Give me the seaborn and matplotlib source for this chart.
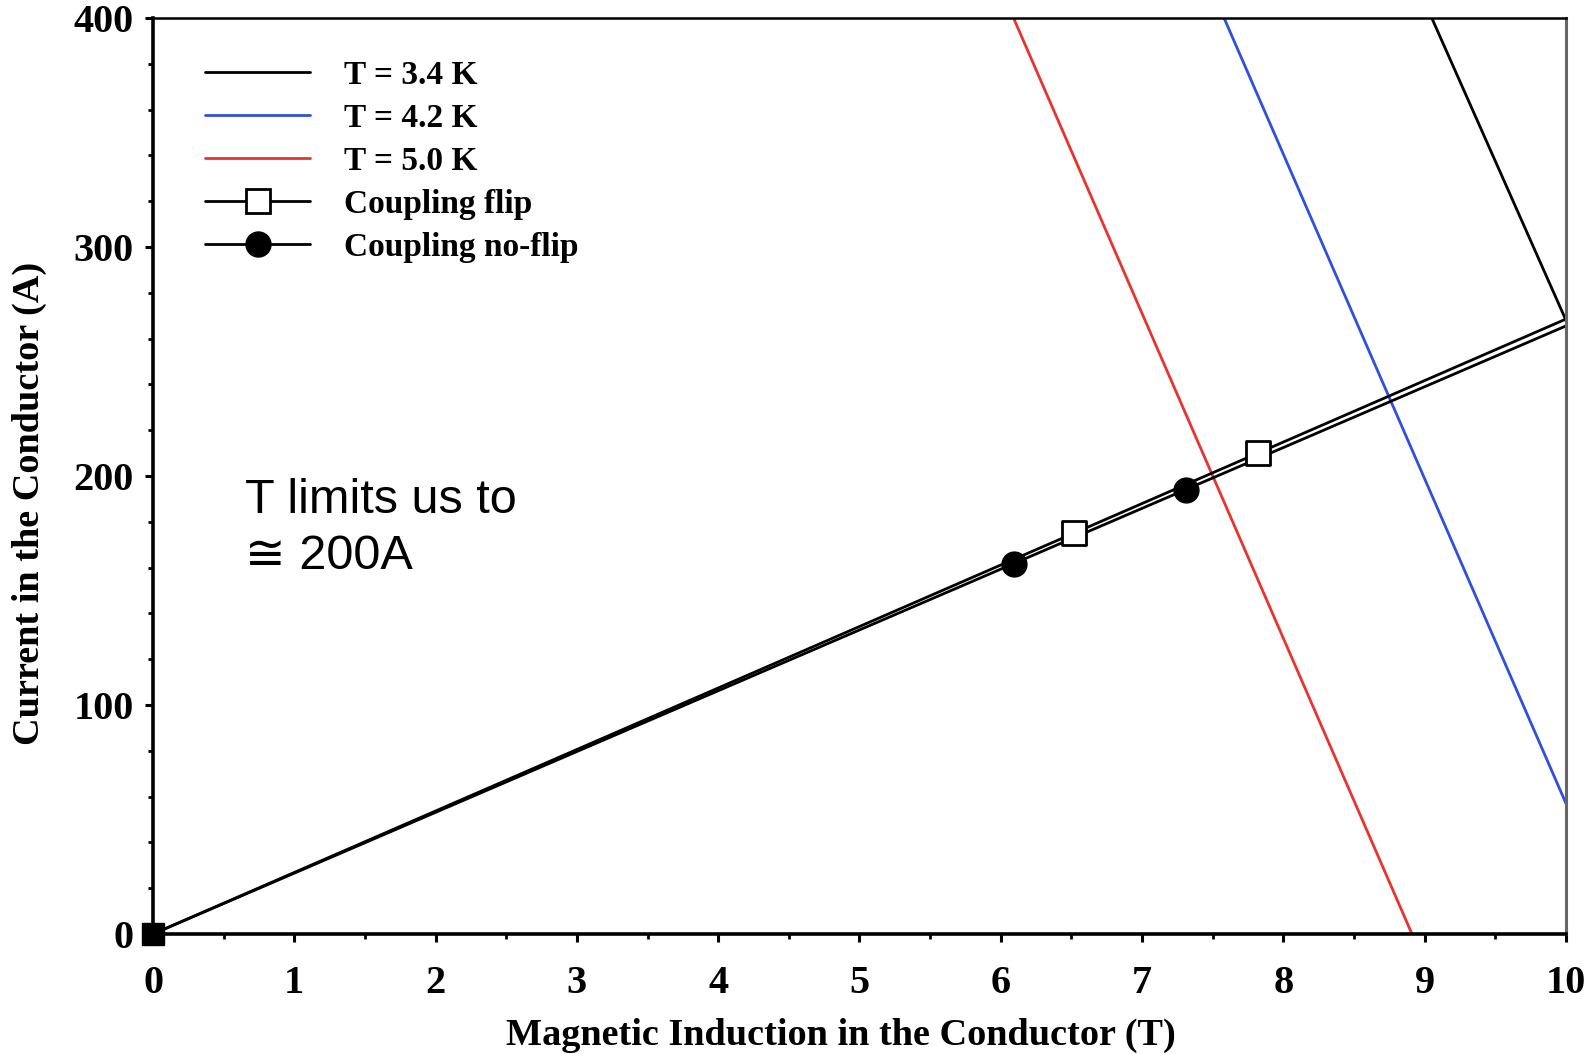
import matplotlib
matplotlib.use("Agg")
import matplotlib.pyplot as plt
import seaborn as sns
from matplotlib.lines import Line2D
from matplotlib.ticker import MultipleLocator

# critical-current lines (B in T, I in A), endpoints
B_34K = [9.05, 10.0]
I_34K = [400, 268]
B_42K = [7.58, 10.0]
I_42K = [400, 57]
B_50K = [6.09, 8.91]
I_50K = [400, 0]

# load lines of the two coupling configurations
B_LOAD = [0.0, 10.0]
I_FLIP = [0.0, 268.5]
I_NOFLIP = [0.0, 265.5]

# marked operating points
B_FLIP_PTS = [6.52, 7.82]
I_FLIP_PTS = [175.1, 210.0]
B_NOFLIP_PTS = [6.09, 7.31]
I_NOFLIP_PTS = [161.7, 194.0]

LABELS = ["T = 3.4 K", "T = 4.2 K", "T = 5.0 K", "Coupling flip", "Coupling no-flip"]
COLORS = ["black", "#2f4fe0", "#e8332e"]

sns.set_style("ticks")
plt.rcParams.update({
    "font.family": ["Liberation Serif", "DejaVu Serif"],
    "font.weight": "bold",
    "text.color": "black",
    "axes.labelcolor": "black",
    "xtick.color": "black",
    "ytick.color": "black",
})

fig = plt.figure(figsize=(15.89, 10.54), dpi=100)
ax = fig.add_axes([0.0963, 0.1139, 0.8892, 0.8691])

for b, i, c in zip([B_34K, B_42K, B_50K], [I_34K, I_42K, I_50K], COLORS):
    sns.lineplot(x=b, y=i, color=c, lw=2, ax=ax, legend=False)

sns.lineplot(x=B_LOAD, y=I_FLIP, color="black", lw=2, ax=ax, legend=False)
sns.lineplot(x=B_LOAD, y=I_NOFLIP, color="black", lw=2, ax=ax, legend=False)

sns.scatterplot(x=B_FLIP_PTS, y=I_FLIP_PTS, marker="s", s=280, facecolor="white",
                edgecolor="black", linewidth=2, ax=ax, zorder=5, legend=False)
sns.scatterplot(x=B_NOFLIP_PTS, y=I_NOFLIP_PTS, marker="o", s=320, color="black",
                edgecolor="black", linewidth=1, ax=ax, zorder=5, legend=False)
ax.plot([B_LOAD[0]], [I_FLIP[0]], marker="s", ms=16, color="black",
        clip_on=False, zorder=6)

ax.set_xlim(0, 10)
ax.set_ylim(0, 400)
ax.xaxis.set_major_locator(MultipleLocator(1))
ax.xaxis.set_minor_locator(MultipleLocator(0.5))
ax.yaxis.set_major_locator(MultipleLocator(100))
ax.yaxis.set_minor_locator(MultipleLocator(20))
ax.tick_params(axis="both", which="major", labelsize=29, width=2.2, length=6)
ax.tick_params(axis="both", which="minor", width=2, length=3.5)
ax.tick_params(axis="x", which="major", pad=16)
ax.tick_params(axis="y", which="major", pad=8)
for lab in ax.get_xticklabels() + ax.get_yticklabels():
    lab.set_fontweight("bold")

for side in ["left", "bottom"]:
    ax.spines[side].set_linewidth(2.6)
    ax.spines[side].set_color("black")
ax.spines["top"].set_linewidth(1.8)
ax.spines["top"].set_color("black")
ax.spines["right"].set_linewidth(2.2)
ax.spines["right"].set_color("#666666")

ax.set_xlabel("Magnetic Induction in the Conductor (T)", fontsize=27.5, fontweight="bold")
ax.set_ylabel("Current in the Conductor (A)", fontsize=27.5, fontweight="bold")
ax.xaxis.set_label_coords(0.487, -0.092)
ax.yaxis.set_label_coords(-0.075, 0.47)

handles = [
    Line2D([], [], color=COLORS[0], lw=2),
    Line2D([], [], color=COLORS[1], lw=2),
    Line2D([], [], color=COLORS[2], lw=2),
    Line2D([], [], color="black", lw=2, marker="s", ms=17, mfc="white", mec="black", mew=2),
    Line2D([], [], color="black", lw=2, marker="o", ms=18, mfc="black", mec="black"),
]
ax.legend(handles, LABELS, loc="upper left", bbox_to_anchor=(0.037, 0.954),
          frameon=False, fontsize=24, handlelength=3.15, handletextpad=1.0,
          labelspacing=0.36, borderpad=0, borderaxespad=0)

ax.text(0.65, 177, "T limits us to\n\u2245 200A", fontsize=35,
        family=["Liberation Sans", "DejaVu Sans"], fontweight="normal",
        ha="left", va="center", linespacing=1.3)

fig.savefig("out.png", dpi=100)
plt.close(fig)
